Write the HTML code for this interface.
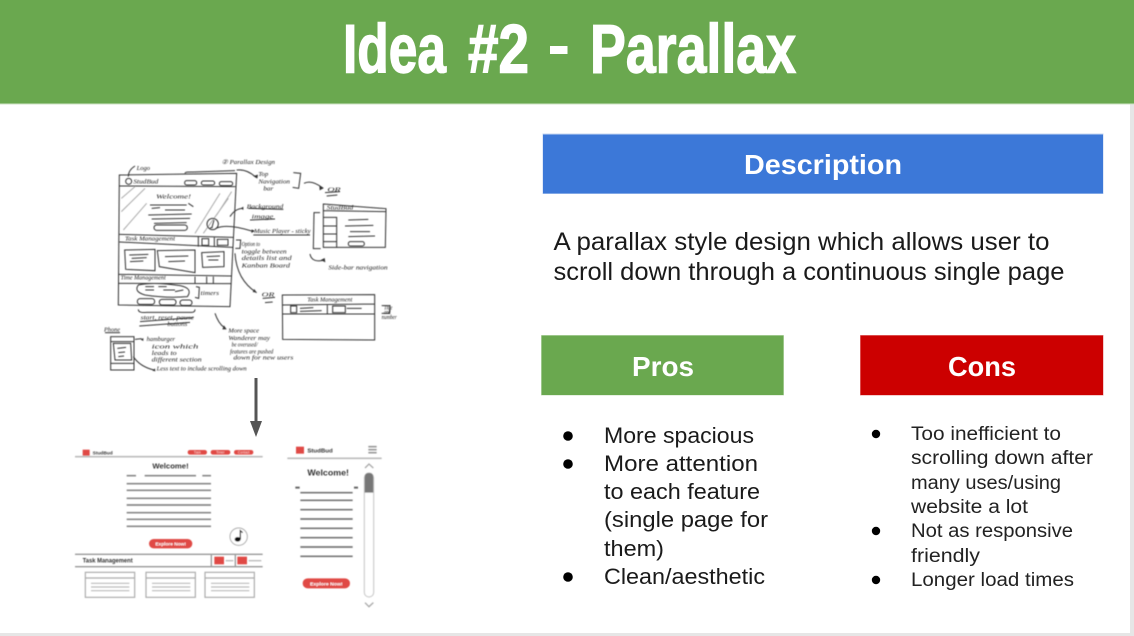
<!DOCTYPE html>
<html lang="en">
<head>
<meta charset="utf-8">
<title>Idea #2 - Parallax</title>
<style>
html,body{margin:0;padding:0;width:1134px;height:636px;overflow:hidden;background:#fff}
svg{display:block}
text{font-family:"Liberation Sans",sans-serif}
.t{fill:#fff;stroke:#fff;stroke-width:1.4;font-weight:bold;font-size:69px}
.b{fill:#1a1a1a;font-size:22px}
.c{fill:#222;font-size:19px}
.h{fill:#fff;font-weight:bold;font-size:28px}
.s{font-family:"Liberation Serif",serif;font-style:italic;fill:#222;font-size:19px}
.m{font-weight:bold;fill:#333}
</style>
</head>
<body>
<svg width="1134" height="636" viewBox="0 0 1134 636" xmlns="http://www.w3.org/2000/svg">
<defs>
<filter id="bl1" x="-5%" y="-5%" width="110%" height="110%"><feGaussianBlur stdDeviation="1.5"/></filter>
<filter id="bl2" x="-5%" y="-5%" width="110%" height="110%"><feGaussianBlur stdDeviation="1.2"/></filter>
</defs>

<!-- page chrome -->
<rect width="1134" height="636" fill="#fff"/>
<rect x="1130" y="0" width="4" height="636" fill="#e6e6e6"/>
<rect x="0" y="633" width="1134" height="3" fill="#e6e6e6"/>
<rect x="0" y="0" width="1134" height="103.5" fill="#6aa84f"/>
<rect x="0" y="103.5" width="1134" height="1" fill="#cfe3c6"/>
<text class="t" x="343" y="72.5" textLength="103" lengthAdjust="spacingAndGlyphs">Idea</text>
<text class="t" x="468" y="72.5" textLength="61" lengthAdjust="spacingAndGlyphs">#2</text>
<rect x="550" y="46" width="17.5" height="8" fill="#fff"/>
<text class="t" x="590" y="72.5" textLength="206" lengthAdjust="spacingAndGlyphs">Parallax</text>

<!-- sketch -->
<g transform="translate(80 140) scale(.33333)" filter="url(#bl1)" fill="none" stroke="#333" stroke-width="3">
  <path d="M118 105 L470 100 L450 500 L115 495 Z"/>
  <path d="M118 138 L466 140 M118 283 L460 292 M118 306 L458 322 M116 403 L455 408 M116 430 L453 431"/>
  <path d="M315 100 Q315 95 340 96 L465 92"/>
  <circle cx="146" cy="124" r="9"/>
  <rect x="314" y="122" width="36" height="13" rx="6"/><rect x="364" y="123" width="40" height="12" rx="6"/><rect x="418" y="125" width="40" height="12" rx="6"/>
  <path d="M124 175 L165 140 M124 215 L195 145 M130 270 L200 190 M345 280 L420 160 M370 280 L445 175 M410 225 L455 155" stroke="#aaa"/>
  <path d="M210 195 L320 195 M215 205 L240 203 M255 210 L315 210 M325 190 L340 200 M205 225 L335 222 M215 237 L330 235 M222 250 L320 248"/>
  <rect x="222" y="255" width="100" height="16" rx="8"/>
  <circle cx="398" cy="252" r="17"/><path d="M402 240 L396 262 M390 264 L398 262"/>
  <path d="M355 288 L355 320 M403 292 L403 320"/><rect x="366" y="296" width="20" height="20"/><rect x="412" y="298" width="32" height="18"/>
  <path d="M134 330 L225 328 L225 392 L137 388 Z M232 332 L345 330 L345 398 L238 380 Z M365 338 L432 335 L432 380 L368 382 Z"/>
  <path d="M148 345 L205 343 M155 355 L200 353 M150 365 L190 363 M255 350 L325 348 M265 365 L315 363 M380 350 L420 348 M385 360 L415 360"/>
  <path d="M345 410 L345 430 M380 410 L380 430 M400 410 L400 430"/>
  <path d="M175 435 Q220 425 300 437 Q340 445 322 470 Q260 475 195 465 Q160 455 175 435 Z"/>
  <path d="M196 440 L222 440 M196 450 L222 450 M235 440 L260 440 M250 450 L285 450 M285 455 L310 450"/>
  <rect x="172" y="476" width="52" height="17" rx="8"/><rect x="238" y="478" width="50" height="17" rx="8"/><rect x="300" y="480" width="36" height="16" rx="8"/>
  <path d="M348 440 L358 442 L356 475 L345 472 M175 508 Q175 520 200 517 L335 517 Q345 517 345 508"/>
  <path d="M145 110 Q145 90 165 78"/>
  <path d="M470 90 Q500 86 528 112"/>
  <path d="M640 98 L662 100 L656 145 L638 142"/>
  <path d="M672 130 Q695 118 730 145"/>
  <path d="M735 158 L780 155 M740 168 L772 165"/>
  <path d="M450 230 Q465 205 490 205"/>
  <path d="M408 265 Q440 250 515 273"/>
  <path d="M505 205 L610 208 M510 240 L585 237 M520 285 L690 285"/>
  <path d="M468 300 L482 300 L480 325 L466 325"/>
  <path d="M465 340 Q470 420 530 458"/>
  <path d="M548 475 L585 472 M555 488 L578 486"/>
  <path d="M730 192 L918 206 L916 322 L730 322 Z M730 212 L918 215 M730 232 L770 232 L770 322 M730 258 L770 258 M730 282 L770 282 M730 305 L770 305"/>
  <path d="M720 218 L702 218 L700 326 L722 326"/>
  <path d="M805 240 L865 238 M795 258 L880 256 M810 275 L870 275 M805 290 L885 288"/>
  <rect x="805" y="305" width="48" height="13" rx="6"/>
  <path d="M690 342 Q695 370 735 360"/>
  <path d="M607 465 L884 464 L884 600 L608 598 Z M607 495 L884 492 M607 522 L884 522 M742 495 L742 522"/>
  <rect x="632" y="498" width="18" height="20"/><rect x="758" y="498" width="38" height="20"/>
  <path d="M660 505 L700 503 M660 514 L725 512 M800 505 L845 505"/>
  <path d="M905 497 L930 497 L928 520 L905 520"/>
  <path d="M405 520 Q415 550 432 562"/>
  <rect x="92" y="590" width="70" height="100"/><path d="M92 605 L162 605 M92 670 L162 670 M100 610 L152 610 L155 660 L105 660 Z"/>
  <path d="M112 625 L138 622 M115 638 L135 636 M115 650 L132 648"/>
  <path d="M165 598 L185 596 M160 650 Q180 680 222 690"/>
  <path d="M75 578 L120 578"/>
  <path d="M180 545 L340 533 M178 558 L330 547"/>
  <g fill="#333" stroke="none">
    <path d="M520 108 l14 -4 -2 12z M730 145 l-12 -8 1 14z M490 200 l-8 5 8 5z M515 268 l10 5 -11 6z M530 458 l-12 -2 5 -9z M722 360 l12 -6 2 13z M432 556 l8 12 -13 0z M190 594 l-8 5 8 4z M225 685 l-8 7 9 2z"/>
  </g>
  <g stroke="none">
    <text class="s" x="170" y="90" textLength="40" lengthAdjust="spacingAndGlyphs">Logo</text>
    <text class="s" x="425" y="72" textLength="160" lengthAdjust="spacingAndGlyphs">② Parallax Design</text>
    <text class="s" x="160" y="130" textLength="75" lengthAdjust="spacingAndGlyphs">StudBud</text>
    <text class="s" x="228" y="176" textLength="105" lengthAdjust="spacingAndGlyphs" font-size="22">Welcome!</text>
    <text class="s" x="535" y="108" textLength="30" lengthAdjust="spacingAndGlyphs">Top</text>
    <text class="s" x="535" y="130" textLength="95" lengthAdjust="spacingAndGlyphs">Navigation</text>
    <text class="s" x="550" y="152" textLength="30" lengthAdjust="spacingAndGlyphs">bar</text>
    <text class="s" x="742" y="155" textLength="40" lengthAdjust="spacingAndGlyphs" font-size="24">OR</text>
    <text class="s" x="500" y="205" textLength="110" lengthAdjust="spacingAndGlyphs">Background</text>
    <text class="s" x="515" y="236" textLength="65" lengthAdjust="spacingAndGlyphs">image</text>
    <text class="s" x="522" y="279" textLength="170" lengthAdjust="spacingAndGlyphs">Music Player - sticky</text>
    <text class="s" x="135" y="302" textLength="150" lengthAdjust="spacingAndGlyphs">Task Management</text>
    <text class="s" x="485" y="318" textLength="55" lengthAdjust="spacingAndGlyphs" font-size="16">Option to</text>
    <text class="s" x="485" y="340" textLength="135" lengthAdjust="spacingAndGlyphs" font-size="16">toggle between</text>
    <text class="s" x="485" y="360" textLength="150" lengthAdjust="spacingAndGlyphs" font-size="16">details list and</text>
    <text class="s" x="485" y="382" textLength="145" lengthAdjust="spacingAndGlyphs" font-size="16">Kanban Board</text>
    <text class="s" x="122" y="418" textLength="135" lengthAdjust="spacingAndGlyphs">Time Management</text>
    <text class="s" x="362" y="465" textLength="55" lengthAdjust="spacingAndGlyphs" font-size="16">timers</text>
    <text class="s" x="545" y="470" textLength="38" lengthAdjust="spacingAndGlyphs" font-size="22">OR</text>
    <text class="s" x="740" y="208" textLength="80" lengthAdjust="spacingAndGlyphs" font-size="16">StudBud</text>
    <text class="s" x="745" y="388" textLength="178" lengthAdjust="spacingAndGlyphs" font-size="16">Side-bar navigation</text>
    <text class="s" x="682" y="485" textLength="135" lengthAdjust="spacingAndGlyphs" font-size="16">Task Management</text>
    <text class="s" x="912" y="508" textLength="25" lengthAdjust="spacingAndGlyphs" font-size="13">Title</text>
    <text class="s" x="912" y="522" textLength="20" lengthAdjust="spacingAndGlyphs" font-size="13">and</text>
    <text class="s" x="905" y="537" textLength="45" lengthAdjust="spacingAndGlyphs" font-size="13">number</text>
    <text class="s" x="182" y="538" textLength="160" lengthAdjust="spacingAndGlyphs" font-size="16">start, reset, pause</text>
    <text class="s" x="262" y="558" textLength="60" lengthAdjust="spacingAndGlyphs" font-size="16">buttons</text>
    <text class="s" x="445" y="578" textLength="92" lengthAdjust="spacingAndGlyphs" font-size="16">More space</text>
    <text class="s" x="445" y="600" textLength="125" lengthAdjust="spacingAndGlyphs" font-size="16">Wanderer may</text>
    <text class="s" x="455" y="620" textLength="78" lengthAdjust="spacingAndGlyphs" font-size="16">be overused/</text>
    <text class="s" x="450" y="640" textLength="130" lengthAdjust="spacingAndGlyphs" font-size="16">features are pushed</text>
    <text class="s" x="460" y="658" textLength="180" lengthAdjust="spacingAndGlyphs" font-size="16">down for new users</text>
    <text class="s" x="72" y="575" textLength="48" lengthAdjust="spacingAndGlyphs" font-size="16">Phone</text>
    <text class="s" x="200" y="603" textLength="85" lengthAdjust="spacingAndGlyphs" font-size="16">hamburger</text>
    <text class="s" x="215" y="625" textLength="140" lengthAdjust="spacingAndGlyphs" font-size="16">icon which</text>
    <text class="s" x="215" y="645" textLength="75" lengthAdjust="spacingAndGlyphs" font-size="16">leads to</text>
    <text class="s" x="215" y="665" textLength="150" lengthAdjust="spacingAndGlyphs" font-size="16">different section</text>
    <text class="s" x="230" y="692" textLength="270" lengthAdjust="spacingAndGlyphs" font-size="16">Less text to include scrolling down</text>
  </g>
</g>

<!-- arrow -->
<rect x="254.5" y="378" width="3" height="45" fill="#555"/>
<path d="M250 421 L262 421 L256 437 Z" fill="#555"/>

<!-- mockups -->
<g transform="translate(60 400) scale(.33333)" filter="url(#bl2)">
  <g fill="none" stroke="#bbb" stroke-width="5">
    <path d="M45 170 L608 170"/>
  </g>
  <rect x="68" y="149" width="21" height="18" fill="#e04a44"/>
  <text class="m" x="98" y="163" font-size="13" textLength="60" lengthAdjust="spacingAndGlyphs">StudBud</text>
  <g fill="#e04a44"><rect x="383" y="150" width="58" height="14" rx="7"/><rect x="452" y="150" width="59" height="14" rx="7"/><rect x="522" y="150" width="58" height="14" rx="7"/></g>
  <g fill="#fbdcda" font-size="10" text-anchor="middle"><text x="412" y="161">Task</text><text x="481" y="161">Timer</text><text x="551" y="161">Contact</text></g>
  <text class="m" x="277" y="205" font-size="22" textLength="109" lengthAdjust="spacingAndGlyphs">Welcome!</text>
  <g stroke="#888" stroke-width="5" fill="none">
    <path d="M200 227 L228 227 M254 227 L408 227 M427 227 L453 227 M200 251 L453 251 M200 271 L453 271 M200 295 L453 295 M200 315 L453 315 M200 338 L453 338 M200 358 L453 358 M200 379 L453 379"/>
  </g>
  <rect x="267" y="417" width="130" height="28" rx="14" fill="#e04a44"/>
  <text x="332" y="436" text-anchor="middle" fill="#fff" font-weight="bold" font-size="14" textLength="92" lengthAdjust="spacingAndGlyphs">Explore Now!</text>
  <circle cx="536" cy="410" r="26" fill="#fff" stroke="#aaa" stroke-width="3"/>
  <ellipse cx="533" cy="418" rx="9" ry="7" fill="#111"/><path d="M541 418 L541 392 L548 398" stroke="#111" stroke-width="3.5" fill="none"/>
  <path d="M45 463 L608 463 M45 500 L608 500 M454 463 L454 500 M526 463 L526 500" stroke="#999" stroke-width="4" fill="none"/>
  <text class="m" x="68" y="487" font-size="18" textLength="150" lengthAdjust="spacingAndGlyphs">Task Management</text>
  <rect x="463" y="470" width="29" height="23" fill="#e04a44"/><rect x="532" y="470" width="29" height="23" fill="#e04a44"/>
  <path d="M497 482 L520 482 M566 482 L604 482" stroke="#bbb" stroke-width="4"/>
  <g fill="none" stroke="#aaa" stroke-width="3.5">
    <rect x="76" y="517" width="148" height="75"/><path d="M76 534 L224 534"/>
    <rect x="258" y="517" width="148" height="75"/><path d="M258 534 L406 534"/>
    <rect x="435" y="517" width="148" height="75"/><path d="M435 534 L583 534"/>
  </g>
  <path d="M93 550 L208 550 M93 561 L208 561 M93 572 L208 572 M276 550 L391 550 M276 561 L391 561 M276 572 L391 572 M453 550 L568 550 M453 561 L568 561 M453 572 L568 572" stroke="#bbb" stroke-width="3.5"/>

  <!-- phone -->
  <path d="M682 175 L965 175" stroke="#bbb" stroke-width="5"/>
  <rect x="708" y="140" width="24" height="21" fill="#e04a44"/>
  <text class="m" x="742" y="157" font-size="17" textLength="76" lengthAdjust="spacingAndGlyphs">StudBud</text>
  <path d="M925 140 L950 140 M925 149 L950 149 M925 158 L950 158" stroke="#999" stroke-width="5"/>
  <text class="m" x="742" y="226" font-size="24" textLength="125" lengthAdjust="spacingAndGlyphs">Welcome!</text>
  <path d="M706 263 L719 263 M882 263 L894 263" stroke="#666" stroke-width="6"/>
  <path d="M721 278 L878 278 M721 301 L878 301 M721 329 L878 329 M721 357 L878 357 M721 385 L878 385 M721 413 L878 413 M721 441 L878 441 M721 469 L878 469" stroke="#777" stroke-width="5"/>
  <rect x="728" y="535" width="142" height="30" rx="15" fill="#e04a44"/>
  <text x="799" y="556" text-anchor="middle" fill="#fff" font-weight="bold" font-size="15" textLength="98" lengthAdjust="spacingAndGlyphs">Explore Now!</text>
  <rect x="913" y="219" width="28" height="372" rx="14" fill="#fff" stroke="#ccc" stroke-width="3.5"/>
  <path d="M914 278 L914 233 Q914 219 927 219 Q940 219 940 233 L940 278 Z" fill="#777"/>
  <path d="M915 204 L927 192 L940 204 M915 608 L927 620 L940 608" fill="none" stroke="#aaa" stroke-width="4"/>
</g>

<!-- description -->
<rect x="542.5" y="133.5" width="561" height="60.5" fill="#c4d6f2"/>
<rect x="543" y="134.5" width="560" height="59" fill="#3c78d8"/>
<text class="h" x="744" y="174" textLength="158" lengthAdjust="spacingAndGlyphs">Description</text>
<text x="553.5" y="250" fill="#1a1a1a" font-size="25" textLength="496" lengthAdjust="spacingAndGlyphs">A parallax style design which allows user to</text>
<text x="553.5" y="280" fill="#1a1a1a" font-size="25" textLength="511" lengthAdjust="spacingAndGlyphs">scroll down through a continuous single page</text>

<!-- pros -->
<rect x="541" y="335" width="243" height="60.5" fill="#cfe3c6"/>
<rect x="541.5" y="335.5" width="242" height="59.5" fill="#6aa84f"/>
<text class="h" x="632" y="376" textLength="62" lengthAdjust="spacingAndGlyphs">Pros</text>
<g fill="#000"><circle cx="568" cy="436" r="4.8"/><circle cx="568" cy="464" r="4.8"/><circle cx="568" cy="577" r="4.8"/></g>
<text class="b" x="604" y="443" textLength="150" lengthAdjust="spacingAndGlyphs">More spacious</text>
<text class="b" x="604" y="471" textLength="154" lengthAdjust="spacingAndGlyphs">More attention</text>
<text class="b" x="604" y="499" textLength="156" lengthAdjust="spacingAndGlyphs">to each feature</text>
<text class="b" x="604" y="527" textLength="164" lengthAdjust="spacingAndGlyphs">(single page for</text>
<text class="b" x="604" y="556" textLength="60" lengthAdjust="spacingAndGlyphs">them)</text>
<text class="b" x="604" y="584" textLength="161" lengthAdjust="spacingAndGlyphs">Clean/aesthetic</text>

<!-- cons -->
<rect x="860" y="335" width="243.5" height="60.5" fill="#ea9a9a"/>
<rect x="860.5" y="335.5" width="242.5" height="59.5" fill="#cc0000"/>
<text class="h" x="948" y="376" textLength="68" lengthAdjust="spacingAndGlyphs">Cons</text>
<g fill="#000"><circle cx="876" cy="434" r="4.2"/><circle cx="876" cy="531" r="4.2"/><circle cx="876" cy="580" r="4.2"/></g>
<text class="c" x="911" y="440" textLength="150" lengthAdjust="spacingAndGlyphs">Too inefficient to</text>
<text class="c" x="911" y="464" textLength="182" lengthAdjust="spacingAndGlyphs">scrolling down after</text>
<text class="c" x="911" y="489" textLength="150" lengthAdjust="spacingAndGlyphs">many uses/using</text>
<text class="c" x="911" y="513" textLength="117" lengthAdjust="spacingAndGlyphs">website a lot</text>
<text class="c" x="911" y="537" textLength="162" lengthAdjust="spacingAndGlyphs">Not as responsive</text>
<text class="c" x="911" y="562" textLength="69" lengthAdjust="spacingAndGlyphs">friendly</text>
<text class="c" x="911" y="586" textLength="163" lengthAdjust="spacingAndGlyphs">Longer load times</text>
</svg>
</body>
</html>
